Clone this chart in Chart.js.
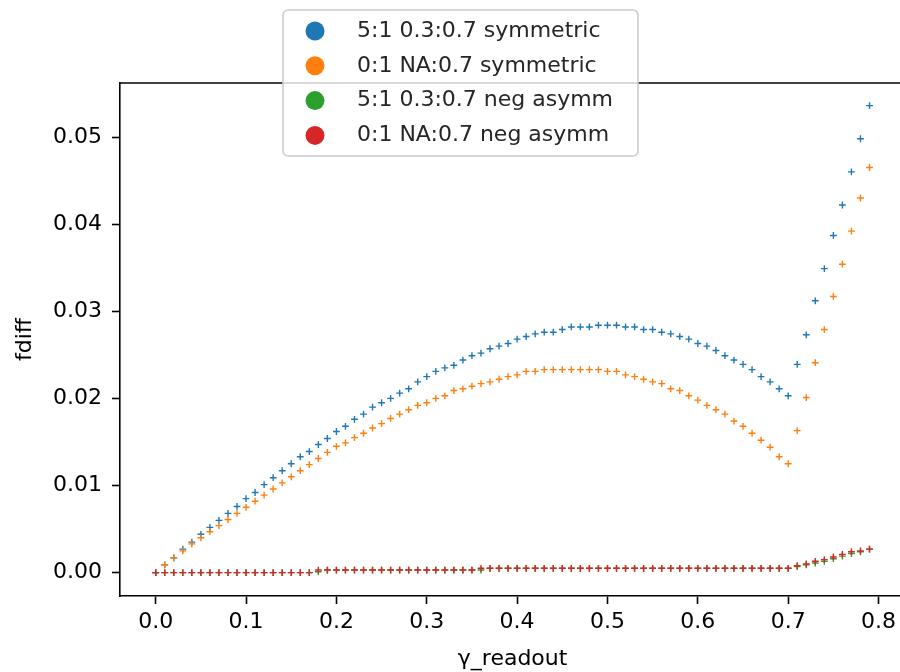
<!DOCTYPE html>
<html>
<head>
<meta charset="utf-8">
<script src="https://cdn.jsdelivr.net/npm/chart.js@4"></script>
<style>
  html, body { margin: 0; padding: 0; background: #fff; overflow: hidden; }
  #wrap { position: absolute; left: 0; top: 0; width: 910px; height: 690px; }
</style>
</head>
<body>
<div id="wrap"><canvas id="chart"></canvas></div>
<script>
const gammaReadout = [
    0.00, 0.01, 0.02, 0.03, 0.04, 0.05, 0.06, 0.07, 0.08, 0.09,
    0.10, 0.11, 0.12, 0.13, 0.14, 0.15, 0.16, 0.17, 0.18, 0.19,
    0.20, 0.21, 0.22, 0.23, 0.24, 0.25, 0.26, 0.27, 0.28, 0.29,
    0.30, 0.31, 0.32, 0.33, 0.34, 0.35, 0.36, 0.37, 0.38, 0.39,
    0.40, 0.41, 0.42, 0.43, 0.44, 0.45, 0.46, 0.47, 0.48, 0.49,
    0.50, 0.51, 0.52, 0.53, 0.54, 0.55, 0.56, 0.57, 0.58, 0.59,
    0.60, 0.61, 0.62, 0.63, 0.64, 0.65, 0.66, 0.67, 0.68, 0.69,
    0.70, 0.71, 0.72, 0.73, 0.74, 0.75, 0.76, 0.77, 0.78, 0.79
];

// 5:1 0.3:0.7 symmetric
const sym51 = [
    0.0000, 0.0009, 0.0017, 0.0027, 0.0035, 0.0044, 0.0052, 0.0060, 0.0068, 0.0076,
    0.0085, 0.0092, 0.0101, 0.0109, 0.0117, 0.0125, 0.0133, 0.0139, 0.0147, 0.0154,
    0.0162, 0.0168, 0.0176, 0.0182, 0.0190, 0.0195, 0.0200, 0.0206, 0.0211, 0.0219,
    0.0225, 0.0231, 0.0235, 0.0238, 0.0244, 0.0249, 0.0252, 0.0257, 0.0260, 0.0263,
    0.0268, 0.0271, 0.0274, 0.0276, 0.0276, 0.0279, 0.0282, 0.0282, 0.0282, 0.0284,
    0.0284, 0.0284, 0.0282, 0.0282, 0.0279, 0.0279, 0.0276, 0.0274, 0.0271, 0.0268,
    0.0263, 0.0260, 0.0255, 0.0249, 0.0244, 0.0239, 0.0233, 0.0225, 0.0219, 0.0211,
    0.0203, 0.0239, 0.0273, 0.0312, 0.0349, 0.0387, 0.0422, 0.0460, 0.0498, 0.0536
];

// 0:1 NA:0.7 symmetric
const sym01 = [
    0.0000, 0.0009, 0.0017, 0.0025, 0.0033, 0.0040, 0.0047, 0.0054, 0.0061, 0.0068,
    0.0075, 0.0082, 0.0089, 0.0096, 0.0103, 0.0110, 0.0117, 0.0124, 0.0131, 0.0138,
    0.0145, 0.0149, 0.0155, 0.0160, 0.0166, 0.0171, 0.0177, 0.0182, 0.0187, 0.0192,
    0.0195, 0.0200, 0.0203, 0.0209, 0.0211, 0.0214, 0.0217, 0.0219, 0.0222, 0.0225,
    0.0227, 0.0231, 0.0231, 0.0233, 0.0233, 0.0233, 0.0233, 0.0233, 0.0233, 0.0233,
    0.0231, 0.0231, 0.0227, 0.0225, 0.0222, 0.0219, 0.0217, 0.0211, 0.0209, 0.0203,
    0.0198, 0.0192, 0.0187, 0.0182, 0.0174, 0.0168, 0.0160, 0.0152, 0.0144, 0.0133,
    0.0125, 0.0163, 0.0201, 0.0241, 0.0279, 0.0317, 0.0354, 0.0392, 0.0430, 0.0465
];

// 5:1 0.3:0.7 neg asymm
const asym51 = [
    0.0000, 0.0000, 0.0000, 0.0000, 0.0000, 0.0000, 0.0000, 0.0000, 0.0000, 0.0000,
    0.0000, 0.0000, 0.0000, 0.0000, 0.0000, 0.0000, 0.0000, 0.0000, 0.0001, 0.0003,
    0.0003, 0.0003, 0.0003, 0.0003, 0.0003, 0.0003, 0.0003, 0.0003, 0.0003, 0.0003,
    0.0003, 0.0003, 0.0003, 0.0003, 0.0003, 0.0003, 0.0003, 0.0005, 0.0005, 0.0005,
    0.0005, 0.0005, 0.0005, 0.0005, 0.0005, 0.0005, 0.0005, 0.0005, 0.0005, 0.0005,
    0.0005, 0.0005, 0.0005, 0.0005, 0.0005, 0.0005, 0.0005, 0.0005, 0.0005, 0.0005,
    0.0005, 0.0005, 0.0005, 0.0005, 0.0005, 0.0005, 0.0005, 0.0005, 0.0005, 0.0005,
    0.0005, 0.0007, 0.0009, 0.0011, 0.0013, 0.0016, 0.0019, 0.0022, 0.0024, 0.0027
];

// 0:1 NA:0.7 neg asymm
const asym01 = [
    0.0000, 0.0000, 0.0000, 0.0000, 0.0000, 0.0000, 0.0000, 0.0000, 0.0000, 0.0000,
    0.0000, 0.0000, 0.0000, 0.0000, 0.0000, 0.0000, 0.0000, 0.0000, 0.0003, 0.0003,
    0.0003, 0.0003, 0.0003, 0.0003, 0.0003, 0.0003, 0.0003, 0.0003, 0.0003, 0.0003,
    0.0003, 0.0003, 0.0003, 0.0003, 0.0003, 0.0003, 0.0005, 0.0005, 0.0005, 0.0005,
    0.0005, 0.0005, 0.0005, 0.0005, 0.0005, 0.0005, 0.0005, 0.0005, 0.0005, 0.0005,
    0.0005, 0.0005, 0.0005, 0.0005, 0.0005, 0.0005, 0.0005, 0.0005, 0.0005, 0.0005,
    0.0005, 0.0005, 0.0005, 0.0005, 0.0005, 0.0005, 0.0005, 0.0005, 0.0005, 0.0005,
    0.0005, 0.0008, 0.0010, 0.0013, 0.0015, 0.0018, 0.0021, 0.0024, 0.0025, 0.0027
];

const seriesLabels = [
    '5:1 0.3:0.7 symmetric',
    '0:1 NA:0.7 symmetric',
    '5:1 0.3:0.7 neg asymm',
    '0:1 NA:0.7 neg asymm'
];
const seriesColors = ['#1f77b4', '#ff7f0e', '#2ca02c', '#d62728'];

const xTicks = [0.0, 0.1, 0.2, 0.3, 0.4, 0.5, 0.6, 0.7, 0.8];
const yTicks = [0.00, 0.01, 0.02, 0.03, 0.04, 0.05];

const FONT = "'DejaVu Sans', sans-serif";
const TXT = '#000';

function toPoints(ys) {
    return gammaReadout.map((x, i) => ({ x, y: ys[i] }));
}

// top spine and the boxed legend that sits over the plot
const framePlugin = {
    id: 'frame',
    afterDraw(chart) {
        const { ctx, chartArea: a } = chart;
        ctx.save();
        ctx.strokeStyle = '#000';
        ctx.lineWidth = 1.6;
        ctx.beginPath();
        ctx.moveTo(a.left, a.top);
        ctx.lineTo(a.right + 10, a.top);
        ctx.stroke();

        // legend box
        const bx = 283, by = 10, bw = 355, bh = 146, r = 5;
        ctx.beginPath();
        ctx.roundRect(bx, by, bw, bh, r);
        ctx.fillStyle = 'rgba(255,255,255,0.8)';
        ctx.fill();
        ctx.strokeStyle = '#cccccc';
        ctx.lineWidth = 1.6;
        ctx.stroke();

        ctx.font = '22px ' + FONT;
        ctx.textBaseline = 'middle';
        ctx.textAlign = 'left';
        chart.data.datasets.forEach((ds, i) => {
            const cy = 31 + i * 34.8;
            ctx.beginPath();
            ctx.arc(315, cy, 9.5, 0, Math.PI * 2);
            ctx.fillStyle = seriesColors[i];
            ctx.fill();
            ctx.fillStyle = '#262626';
            ctx.fillText(ds.label, 357, cy);
        });
        ctx.restore();
    }
};

const data = [sym51, sym01, asym51, asym01];

new Chart(document.getElementById('chart'), {
    type: 'scatter',
    data: {
        datasets: data.map((ys, i) => ({
            label: seriesLabels[i],
            data: toPoints(ys),
            pointStyle: 'cross',
            pointRadius: 3.4,
            pointHoverRadius: 3.4,
            borderWidth: 1.4,
            borderColor: seriesColors[i],
            backgroundColor: seriesColors[i],
            order: 3 - i
        }))
    },
    options: {
        responsive: true,
        maintainAspectRatio: false,
        animation: false,
        devicePixelRatio: 1,
        layout: { padding: { top: 83, right: 4, left: 0, bottom: 0 } },
        plugins: {
            legend: { display: false },
            tooltip: { enabled: false }
        },
        events: [],
        scales: {
            x: {
                type: 'linear',
                min: -0.0395,
                max: 0.8295,
                afterFit: s => { s.height = 94; },
                afterBuildTicks: s => { s.ticks = xTicks.map(v => ({ value: v })); },
                border: { display: true, color: '#000', width: 1.6 },
                grid: { drawOnChartArea: false, drawTicks: true, tickLength: 8, tickColor: '#000', tickWidth: 1.6 },
                ticks: {
                    color: TXT,
                    font: { family: FONT, size: 22 },
                    padding: 5,
                    maxRotation: 0,
                    callback: v => v.toFixed(1)
                },
                title: {
                    display: true,
                    text: 'γ_readout',
                    color: TXT,
                    font: { family: FONT, size: 22 },
                    padding: { top: 0, bottom: 18 }
                }
            },
            y: {
                type: 'linear',
                min: -0.00268,
                max: 0.0562,
                afterFit: s => { s.width = 120; },
                afterBuildTicks: s => { s.ticks = yTicks.map(v => ({ value: v })); },
                border: { display: true, color: '#000', width: 1.6 },
                grid: { drawOnChartArea: false, drawTicks: true, tickLength: 8, tickColor: '#000', tickWidth: 1.6 },
                ticks: {
                    color: TXT,
                    font: { family: FONT, size: 22 },
                    padding: 10,
                    callback: v => v.toFixed(2)
                },
                title: {
                    display: true,
                    text: 'fdiff',
                    color: TXT,
                    font: { family: FONT, size: 22 },
                    padding: { top: 12, bottom: 0 }
                }
            }
        }
    },
    plugins: [framePlugin]
});
</script>
</body>
</html>
